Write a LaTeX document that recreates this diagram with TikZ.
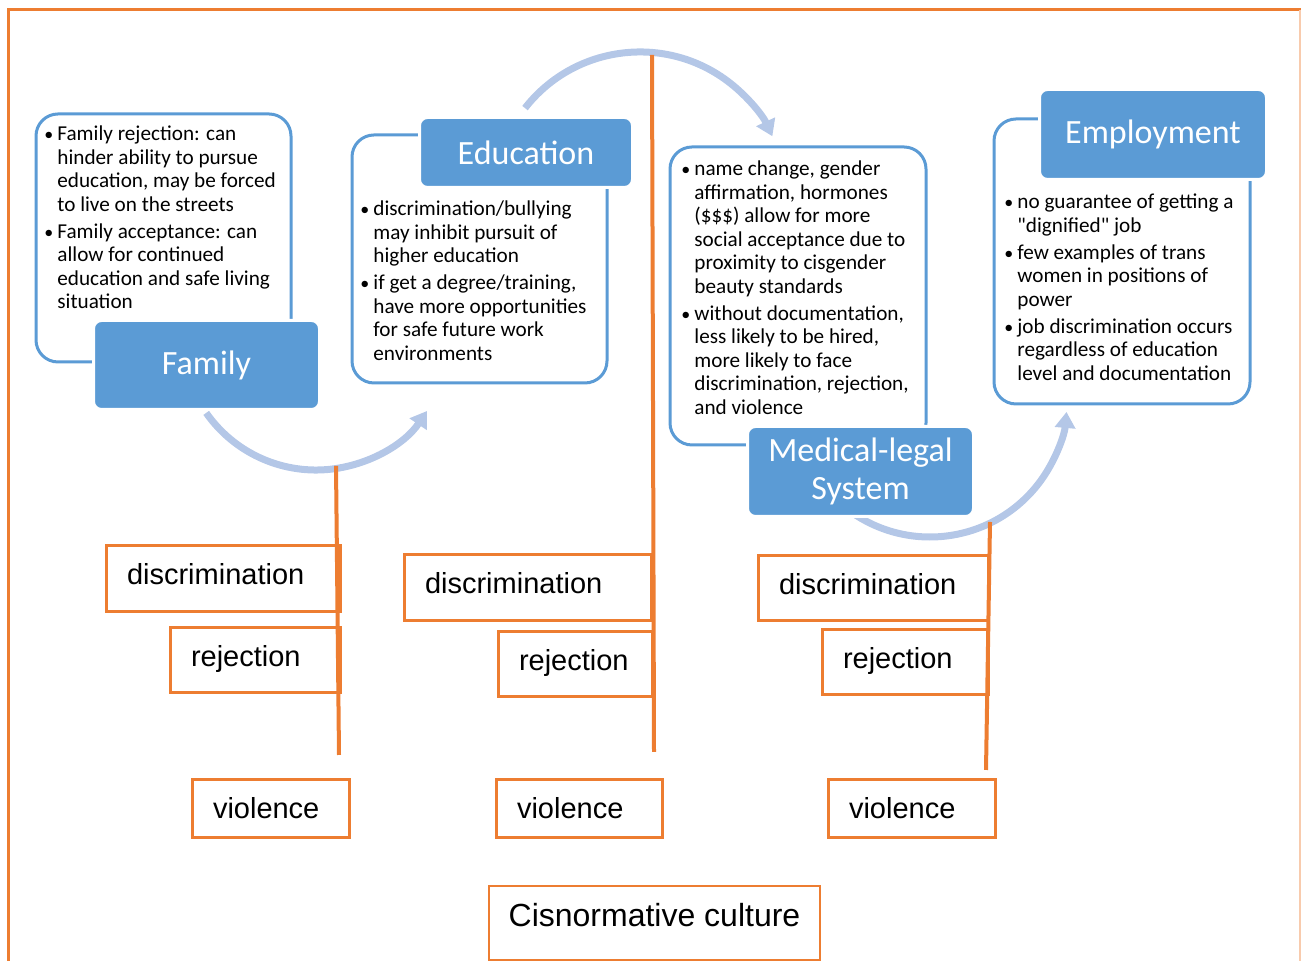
\documentclass[tikz,border=0pt]{standalone}
\usepackage{fontspec}
\setmainfont{Carlito}
\newfontfamily\arialfont{Liberation Sans}
\usetikzlibrary{arrows.meta,positioning}
\definecolor{Accent}{HTML}{5B9BD5}
\definecolor{Soft}{HTML}{B4C7E7}
\definecolor{Tangerine}{HTML}{ED7D31}
\definecolor{Peach}{HTML}{F8CBAD}

% bullet list set as a two column table
\newcommand{\blt}{\hspace{-0.5pt}{\fontsize{9}{9}\selectfont\textbullet}}
\newcommand{\pts}[1]{\begin{tabular}{@{}p{6pt}@{}l@{}}#1\end{tabular}}

\tikzset{
  callout/.style={draw=Accent,line width=1.5pt,rounded corners=11pt,fill=white},
  stage/.style={fill=Accent,draw=white,line width=1.5pt,rounded corners=4pt,text=white,
    align=center,font=\fontsize{17}{19}\selectfont},
  notes/.style={anchor=north west,inner sep=0pt,font=\fontsize{10.6}{11.75}\selectfont},
  % text hangs from the top edge, depth fills the rest of the box
  tag/.style 2 args={draw=Tangerine,line width=1.5pt,fill=white,text width=#1,inner xsep=10.5pt,
    inner ysep=0pt,align=left,text height=19.5pt,text depth=#2,
    font=\arialfont\fontsize{14.5}{17}\selectfont},
  stem/.style={Tangerine,line width=2pt},
  flow/.style={Soft,line width=3.5pt,-{Triangle[width=10pt,length=8pt]}}
}

\begin{document}
\begin{tikzpicture}[x=0.5pt,y=0.5pt]
\useasboundingbox (0,0) rectangle (1301,961);

% circular arrows between the stages
\coordinate (famarc) at (206.2,548.1);
\coordinate (eduarc) at (525,852.9);
\coordinate (medarc) at (855.4,446.1);
\draw[flow] (famarc) arc[start angle=215,end angle=326,radius=134];
\draw[flow] (eduarc) arc[start angle=142,end angle=25,radius=146];
\draw[flow] (medarc) arc[start angle=237,end angle=355,radius=137];

% note panels
\node[callout,minimum width=127.5pt,minimum height=124pt] (famnote) at (163.5,723) {};
\node[callout,minimum width=127.5pt,minimum height=124pt] (edunote) at (479.5,702) {};
\node[callout,minimum width=128pt,minimum height=149pt] (mednote) at (798,665) {};
\node[callout,minimum width=128pt,minimum height=142.5pt] (empnote) at (1122,699.5) {};

\node[notes] (famtext) at (45,837) {\pts{
  \blt & Family rejection: can\\
  & hinder ability to pursue\\
  & education, may be forced\\
  & to live on the streets\\[1.75pt]
  \blt & Family acceptance: can\\
  & allow for continued\\
  & education and safe living\\
  & situation}};
\node[notes] (edutext) at (361,762) {\pts{
  \blt & discrimination/bullying\\
  & may inhibit pursuit of\\
  & higher education\\[1.75pt]
  \blt & if get a degree/training,\\
  & have more opportunities\\
  & for safe future work\\
  & environments}};
\node[notes] (medtext) at (682,802) {\pts{
  \blt & name change, gender\\
  & affirmation, hormones\\
  & (\$\$\$) allow for more\\
  & social acceptance due to\\
  & proximity to cisgender\\
  & beauty standards\\[1.75pt]
  \blt & without documentation,\\
  & less likely to be hired,\\
  & more likely to face\\
  & discrimination, rejection,\\
  & and violence}};
\node[notes] (emptext) at (1005,769) {\pts{
  \blt & no guarantee of getting a\\
  & \textquotedbl dignified\textquotedbl\ job\\[1.75pt]
  \blt & few examples of trans\\
  & women in positions of\\
  & power\\[1.75pt]
  \blt & job discrimination occurs\\
  & regardless of education\\
  & level and documentation}};

% stage titles
\node[stage,minimum width=113pt,minimum height=44.5pt] (family) at (206.5,596) {Family};
\node[stage,minimum width=106.5pt,minimum height=35pt] (education) at (526,808.5) {Education};
\node[stage,minimum width=113pt,minimum height=45pt] (medical) at (860.5,489.5) {Medical-legal\\System};
\node[stage,minimum width=113.5pt,minimum height=45pt] (employment) at (1153,826.5) {Employment};

% harms hanging from each stage
\node[tag={96pt}{13.5pt}] (disc1) at (223,382) {discrimination};
\node[tag={64pt}{13pt}] (rej1) at (255,300.5) {rejection};
\node[tag={57.5pt}{9.5pt}] (viol1) at (270.5,152) {violence};
\node[tag={102.5pt}{13.5pt}] (disc2) at (527.5,373) {discrimination};
\node[tag={56pt}{13pt}] (rej2) at (575,296.5) {rejection};
\node[tag={62pt}{9.5pt}] (viol2) at (579,152) {violence};
\node[tag={94pt}{13pt}] (disc3) at (873,372.5) {discrimination};
\node[tag={62pt}{13pt}] (rej3) at (905,298.5) {rejection};
\node[tag={62.5pt}{9.5pt}] (viol3) at (911.5,152) {violence};

\coordinate (top1) at (336,495);
\coordinate (foot1) at (339,206);
\coordinate (top2) at (652,906);
\coordinate (foot2) at (654,209);
\coordinate (top3) at (990,439);
\coordinate (foot3) at (986,191);
\foreach \i in {1,2,3}
  \draw[stem] (top\i) -- (foot\i);

\node[draw=Tangerine,line width=0.8pt,minimum width=165.5pt,minimum height=37pt,text depth=8pt,
  font=\arialfont\fontsize{16}{19}\selectfont] (culture) at (654.5,38) {Cisnormative culture};

% page frame
\draw[Tangerine,line width=1.5pt] (8,-10) -- (8,951) -- (1310,951);
\draw[Peach,line width=1.5pt] (1300,951) -- (1300,-10);
\end{tikzpicture}
\end{document}
